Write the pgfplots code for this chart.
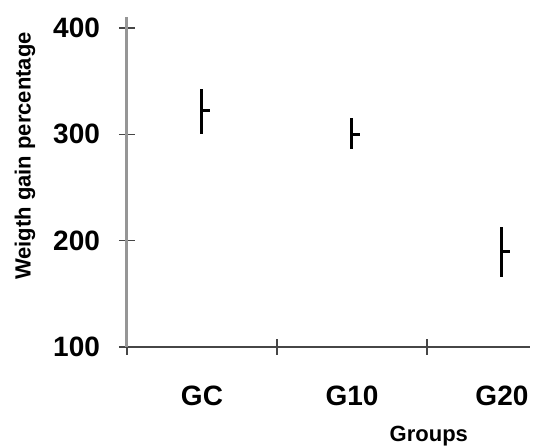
\documentclass[border=0pt]{standalone}
\usepackage{fontspec}
\setmainfont{Liberation Sans}
\usepackage{pgfplots}
\pgfplotsset{compat=1.18}
\definecolor{axisgray}{RGB}{150,150,150}
\definecolor{darkline}{RGB}{70,70,70}
\pgfdeclareplotmark{closetick}{%
  \pgfpathmoveto{\pgfpointorigin}%
  \pgfpathlineto{\pgfpoint{4pt}{0pt}}%
  \pgfusepathqstroke}
\begin{document}
\begin{tikzpicture}
\begin{axis}[
  scale only axis, width=201.5pt, height=164.8pt,
  at={(63.5pt,50.5pt)}, anchor=south west,
  xmin=-0.5, xmax=2.187, ymin=100, ymax=410,
  axis x line*=bottom, axis y line*=left,
  y axis line style={line width=1.5pt, color=axisgray},
  x axis line style={line width=0.6pt, color=darkline},
  ytick={100,200,300,400},
  xtick={0,1,2}, xticklabels={GC,G10,G20},
  minor xtick={-0.5,0.5,1.5},
  major x tick style={draw=none},
  minor x tick style={line width=0.6pt, color=darkline},
  y tick style={line width=0.6pt, color=darkline},
  minor y tick num=0,
  tick align=center, major tick length=8pt, minor tick length=8pt,
  ticklabel style={font=\fontsize{14}{16}\selectfont\bfseries, text=black},
  /pgf/number format/assume math mode=true,
  yticklabel style={xshift=-6pt},
  xticklabel style={yshift=-12pt},
  ylabel={Weigth gain percentage},
  ylabel style={at={(axis description cs:-0.253,0.5795)}, anchor=center, rotate=0, font=\fontsize{11}{13}\selectfont\bfseries},
  xlabel={Groups},
  xlabel style={at={(axis description cs:0.749,-0.2882)}, anchor=base, font=\fontsize{11}{13}\selectfont\bfseries},
  clip=false,
]
\addplot[black, line width=1.5pt, mark=closetick, mark options={line width=1.5pt},
  only marks,
  error bars/.cd, y dir=both, y explicit,
  error mark=none,
  error bar style={line width=1.5pt, black}]
  coordinates {
    (0,322) += (0,21) -= (0,22)
    (1,300) += (0,15) -= (0,14)
    (2,190) += (0,23) -= (0,24)
  };
\end{axis}
\pgfresetboundingbox
\useasboundingbox (0,0) rectangle (267pt,224pt);
\end{tikzpicture}
\end{document}
